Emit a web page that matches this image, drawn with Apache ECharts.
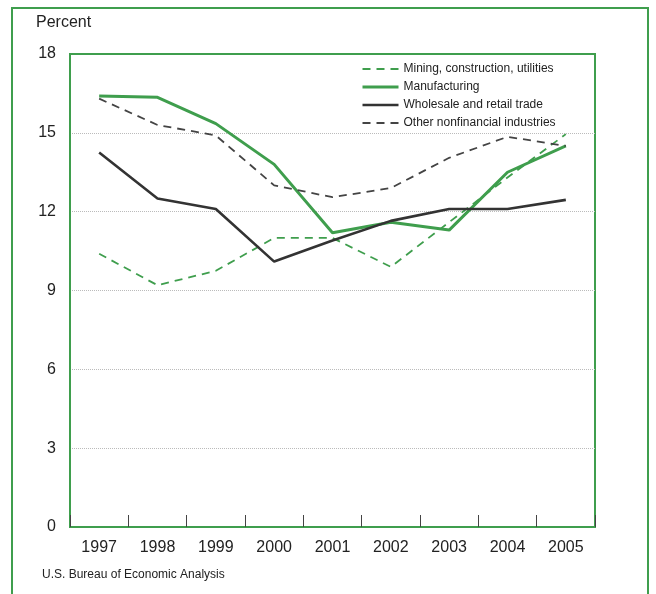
<!DOCTYPE html>
<html>
<head>
<meta charset="utf-8">
<script src="https://cdn.jsdelivr.net/npm/echarts@6/dist/echarts.min.js"></script>
<style>
html,body{margin:0;padding:0;background:#fff;}
#chart{width:656px;height:594px;}
</style>
</head>
<body>
<div id="chart"></div>
<script>
const years = ['1997','1998','1999','2000','2001','2002','2003','2004','2005'];
const yTicks = [0, 3, 6, 9, 12, 15, 18];
const mining = [10.4, 9.2, 9.75, 11.0, 11.0, 9.9, 11.6, 13.3, 14.95];
const manufacturing = [16.4, 16.35, 15.35, 13.8, 11.2, 11.6, 11.3, 13.5, 14.5];
const wholesale = [14.25, 12.5, 12.1, 10.1, 10.9, 11.65, 12.1, 12.1, 12.45];
const other = [16.3, 15.3, 14.9, 13.0, 12.55, 12.9, 14.05, 14.85, 14.5];
const seriesNames = ['Mining, construction, utilities', 'Manufacturing', 'Wholesale and retail trade', 'Other nonfinancial industries'];

const GREEN = '#3f9e4d';
const DARK = '#333333';
const FONT = '"Liberation Sans", Arial, sans-serif';

const chart = echarts.init(document.getElementById('chart'), null, {renderer: 'canvas'});
chart.setOption({
  animation: false,
  backgroundColor: '#ffffff',
  textStyle: {fontFamily: FONT},
  graphic: [
    {type: 'rect', shape: {x: 12, y: 8, width: 636, height: 620}, style: {fill: 'none', stroke: GREEN, lineWidth: 2}, z: -10},
    {type: 'text', left: 36, top: 15, style: {text: 'Percent', fontSize: 16, fill: '#222', fontFamily: FONT}},
    {type: 'text', left: 42, top: 569, style: {text: 'U.S. Bureau of Economic Analysis', fontSize: 12, fill: '#222', fontFamily: FONT}}
  ],
  grid: {left: 70, right: 61, top: 54, bottom: 67, show: true, borderColor: GREEN, borderWidth: 2, backgroundColor: 'transparent'},
  legend: {
    orient: 'vertical', left: 356, top: 58, itemWidth: 36, itemHeight: 12, itemGap: 6,
    textStyle: {fontSize: 12, color: '#222', fontFamily: FONT},
    itemStyle: {opacity: 0},
    lineStyle: {width: 'inherit'},
    data: seriesNames
  },
  xAxis: {
    type: 'category', data: years, boundaryGap: true,
    axisLine: {show: true, lineStyle: {color: GREEN, width: 2}},
    axisTick: {show: true, inside: true, length: 12, lineStyle: {color: '#444', width: 1}},
    axisLabel: {fontSize: 16, color: '#222', margin: 13, fontFamily: FONT},
    splitLine: {show: false}
  },
  yAxis: {
    type: 'value', min: 0, max: 18, interval: 3,
    axisLine: {show: true, lineStyle: {color: GREEN, width: 2}},
    axisTick: {show: false},
    axisLabel: {fontSize: 16, color: '#222', margin: 14, fontFamily: FONT},
    splitLine: {show: true, showMinLine: false, showMaxLine: false, lineStyle: {color: '#bbbbbb', type: 'dotted', width: 1}}
  },
  series: [
    {name: seriesNames[0], type: 'line', data: mining, symbol: 'none', legendIcon: 'none', lineStyle: {color: GREEN, width: 1.8, type: [8, 6]}, itemStyle: {color: GREEN}},
    {name: seriesNames[1], type: 'line', data: manufacturing, symbol: 'none', legendIcon: 'none', lineStyle: {color: GREEN, width: 3}, itemStyle: {color: GREEN}},
    {name: seriesNames[2], type: 'line', data: wholesale, symbol: 'none', legendIcon: 'none', lineStyle: {color: DARK, width: 2.6}, itemStyle: {color: DARK}},
    {name: seriesNames[3], type: 'line', data: other, symbol: 'none', legendIcon: 'none', lineStyle: {color: '#444', width: 1.8, type: [8, 6]}, itemStyle: {color: '#444'}}
  ]
});
</script>
</body>
</html>
